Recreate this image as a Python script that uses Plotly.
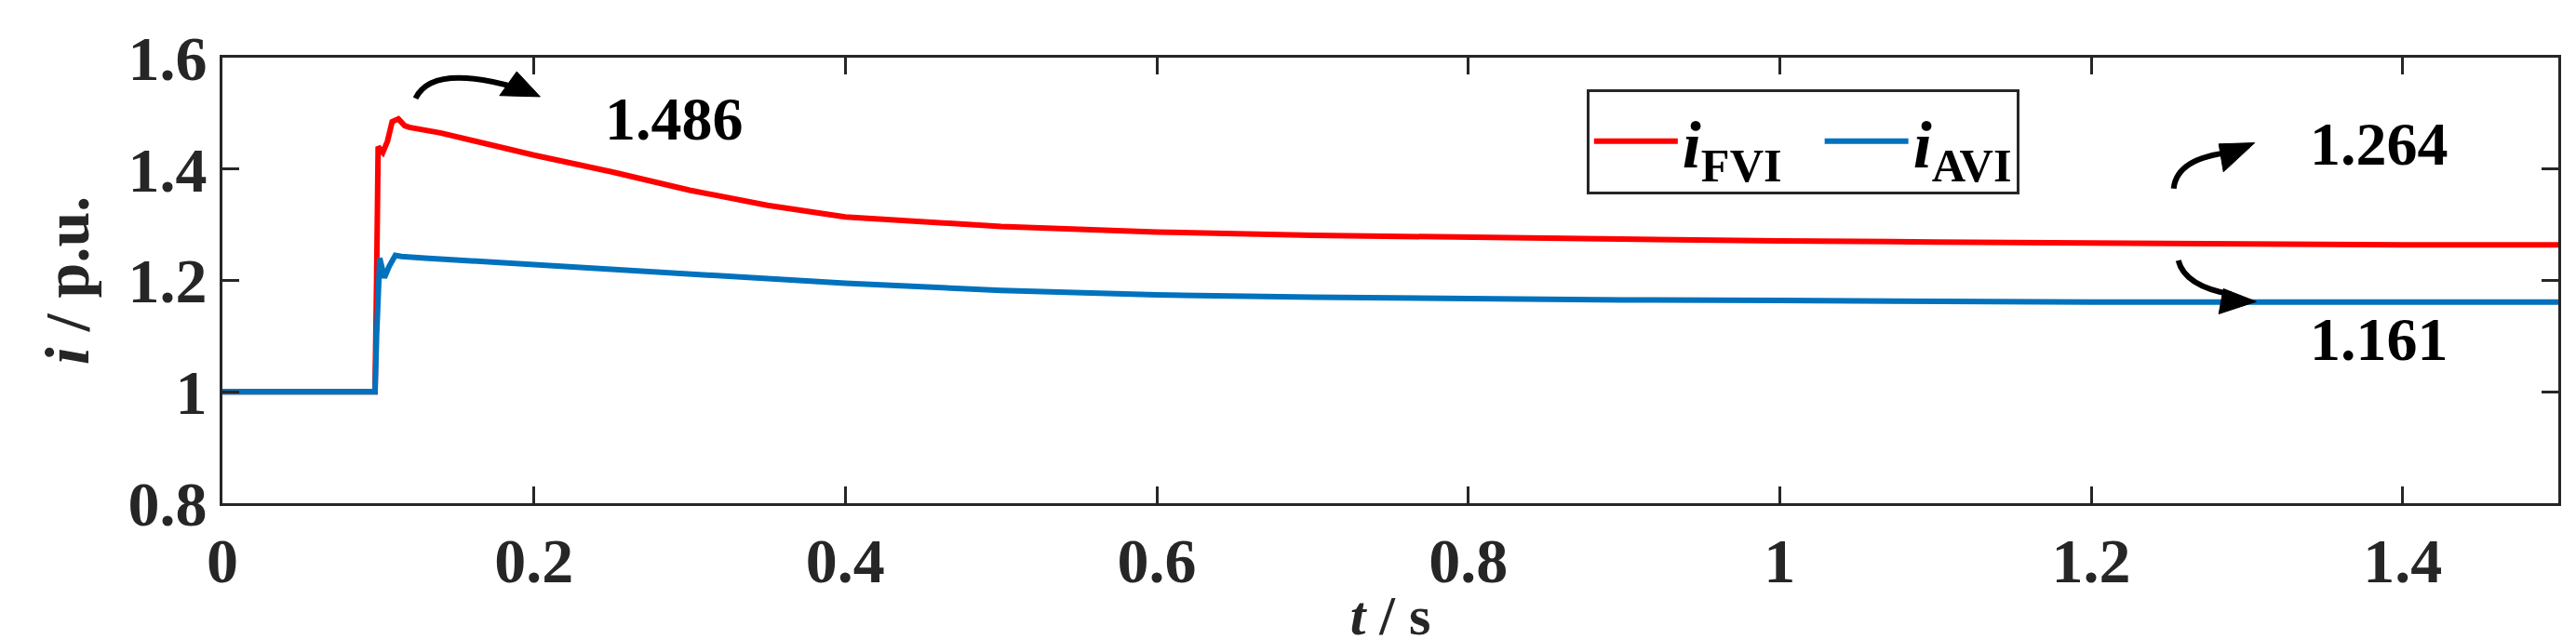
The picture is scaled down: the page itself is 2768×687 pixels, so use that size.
import plotly.graph_objects as go

t_fvi = [0, 0.098, 0.099, 0.1, 0.103, 0.106, 0.109, 0.113, 0.117, 0.12, 0.14, 0.17, 0.2, 0.25, 0.3, 0.35, 0.4, 0.5, 0.6, 0.7, 0.8, 0.9, 1.0, 1.1, 1.2, 1.3, 1.4, 1.5]
i_fvi = [1.0, 1.0, 1.2, 1.44, 1.43, 1.45, 1.485, 1.49, 1.478, 1.475, 1.465, 1.445, 1.425, 1.395, 1.362, 1.335, 1.314, 1.297, 1.287, 1.281, 1.277, 1.274, 1.271, 1.269, 1.267, 1.265, 1.264, 1.264]
t_avi = [0, 0.098, 0.099, 0.101, 0.104, 0.107, 0.111, 0.115, 0.13, 0.2, 0.3, 0.4, 0.5, 0.6, 0.7, 0.8, 0.9, 1.0, 1.1, 1.2, 1.3, 1.4, 1.5]
i_avi = [1.0, 1.0, 1.1, 1.24, 1.205, 1.225, 1.245, 1.243, 1.24, 1.228, 1.21, 1.195, 1.182, 1.174, 1.170, 1.167, 1.165, 1.164, 1.162, 1.161, 1.161, 1.161, 1.161]
x_ticks = [0, 0.2, 0.4, 0.6, 0.8, 1.0, 1.2, 1.4]
x_labels = ["0", "0.2", "0.4", "0.6", "0.8", "1", "1.2", "1.4"]
y_ticks = [0.8, 1.0, 1.2, 1.4, 1.6]
y_labels = ["0.8", "1", "1.2", "1.4", "1.6"]

FONT = "Liberation Serif, Times New Roman, serif"
fig = go.Figure()
fig.add_trace(go.Scatter(x=t_fvi, y=i_fvi, mode="lines", line=dict(color="#ff0000", width=6),
                         name="<b><i>i</i><sub>FVI</sub></b>  "))
fig.add_trace(go.Scatter(x=t_avi, y=i_avi, mode="lines", line=dict(color="#0072bd", width=6),
                         name="<b><i>i</i><sub>AVI</sub></b>"))

ax = dict(showline=True, mirror="ticks", linecolor="#262626", linewidth=3, ticks="inside",
          ticklen=18, tickwidth=3, tickcolor="#262626", showgrid=False, zeroline=False,
          tickfont=dict(family=FONT, size=68, color="#262626"))
fig.update_xaxes(**ax, range=[0, 1.5], tickvals=x_ticks, ticktext=["<b>%s</b>" % s for s in x_labels],
                 title=dict(text="<b><i>t</i> / s</b>", font=dict(family=FONT, size=60, color="#262626"), standoff=0))
fig.update_yaxes(**ax, range=[0.8, 1.6], tickvals=y_ticks, ticktext=["<b>%s</b>" % s for s in y_labels],
                 title=dict(text="<b><i>i</i> / p.u.</b>", font=dict(family=FONT, size=68, color="#262626"), standoff=20))

arrows = [
    ("M 0.124 1.527 Q 0.135 1.59 0.19 1.545", "M 0.204 1.53 L 0.178 1.532 L 0.189 1.575 Z"),
    ("M 1.253 1.365 Q 1.255 1.42 1.29 1.43", "M 1.305 1.447 L 1.282 1.445 L 1.285 1.395 Z"),
    ("M 1.256 1.236 Q 1.26 1.19 1.29 1.175", "M 1.306 1.162 L 1.282 1.14 L 1.285 1.185 Z"),
]
for curve, head in arrows:
    fig.add_shape(type="path", path=curve, xref="x", yref="y", line=dict(color="black", width=6))
    fig.add_shape(type="path", path=head, xref="x", yref="y", line=dict(color="black", width=1), fillcolor="black")

for x, y, txt in [(0.29, 1.49, "1.486"), (1.385, 1.445, "1.264"), (1.385, 1.095, "1.161")]:
    fig.add_annotation(x=x, y=y, text="<b>%s</b>" % txt, showarrow=False,
                       font=dict(family=FONT, size=66, color="black"))

fig.update_layout(
    width=2768, height=687, plot_bgcolor="white", paper_bgcolor="white",
    margin=dict(l=231, r=27, t=54, b=148),
    legend=dict(x=0.584, y=0.93, xanchor="left", yanchor="top", orientation="h",
                bordercolor="#262626", borderwidth=3, bgcolor="white",
                font=dict(family=FONT, size=72, color="black"), itemwidth=90),
    showlegend=True,
)
fig.write_html("out.html")
